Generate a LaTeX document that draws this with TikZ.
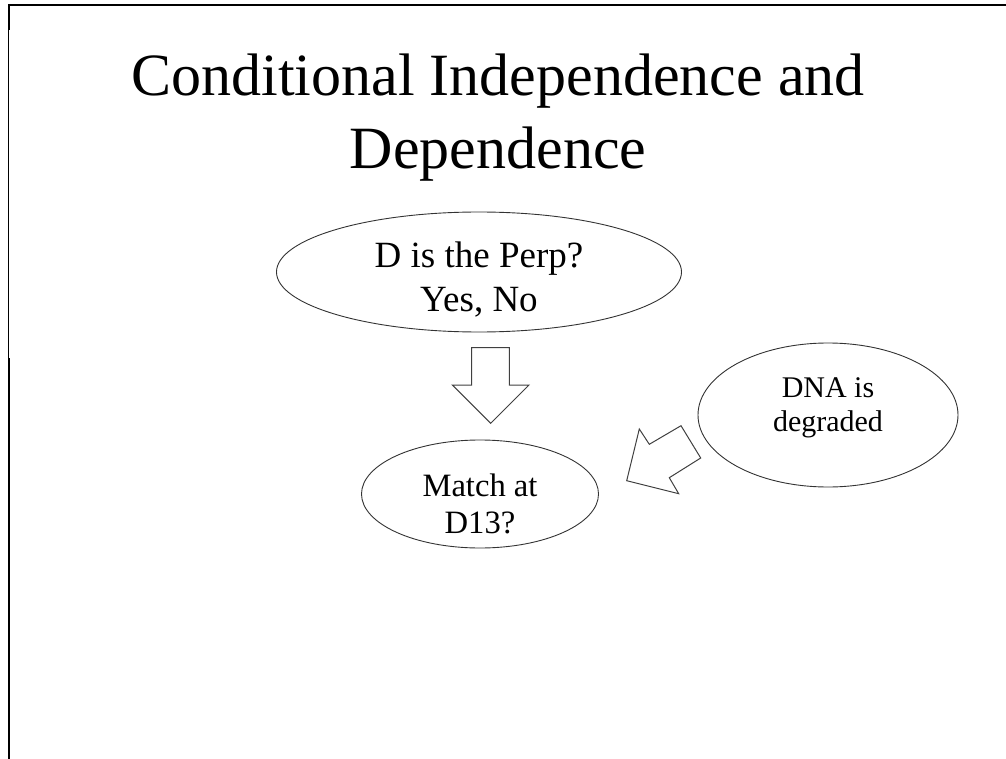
\documentclass[tikz,border=0pt]{standalone}
\usepackage{fontspec}
\setmainfont{Liberation Serif}
\usetikzlibrary{shapes.geometric}

\tikzset{
    bubble/.style={ellipse,draw=black!80,line width=0.9pt,inner sep=0pt},
    bubbletext/.style={align=center,inner sep=0pt},
    blockarrow/.style={draw=black!75,line width=1pt,fill=white,line join=miter},
    frameline/.style={black,line width=1.6pt}
}

\begin{document}
\begin{tikzpicture}[x=1pt,y=-1pt]
    \useasboundingbox (0,0) rectangle (1006,759);
    % slide frame
    \draw[frameline] (8,5) -- (1006,5);
    \draw[frameline,line width=1pt] (8,5) -- (8,759);
    \draw[frameline,line width=2pt] (9,358) -- (9,759);
    \draw[frameline,line width=2pt] (9,5) -- (9,30);
    % title
    \node[align=center,font={\fontsize{60}{73}\selectfont}] (title) at (498,118)
        {Conditional Independence and\\Dependence};
    % the three variables
    \node[bubble,minimum width=405,minimum height=120] (perp) at (479,272) {};
    \node[bubbletext,font={\fontsize{37}{44}\selectfont},yshift=-8] (perptext) at (perp.center)
        {D is the Perp?\\Yes, No};
    \node[bubble,minimum width=237,minimum height=108] (match) at (480,494) {};
    \node[bubbletext,font={\fontsize{32.6}{37}\selectfont},yshift=-10] (matchtext) at (match.center)
        {Match at\\D13?};
    \node[bubble,minimum width=260,minimum height=144] (dna) at (828,415) {};
    \node[bubbletext,font={\fontsize{30}{34}\selectfont},yshift=7] (dnatext) at (dna.center)
        {DNA is\\degraded};
    % block arrows
    \draw[blockarrow] (471.7,347.7) -- (509.3,347.7) -- (509.3,385) -- (529,385)
        -- (490.7,423.3) -- (452.3,385) -- (471.7,385) -- cycle;
    \draw[blockarrow] (626.7,480.7) -- (639.3,429) -- (649.3,444.3) -- (681,425.7)
        -- (700.7,458) -- (669.3,477.7) -- (678.7,493.7) -- cycle;
\end{tikzpicture}
\end{document}
